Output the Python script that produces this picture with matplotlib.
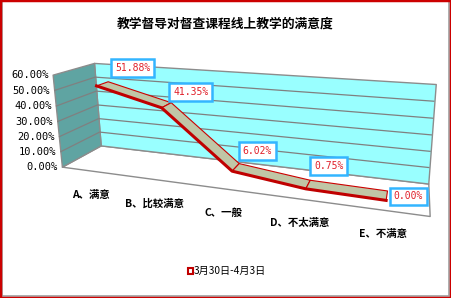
import numpy as np
import matplotlib
matplotlib.use("Agg")
import matplotlib.pyplot as plt
from matplotlib.patches import Rectangle
from matplotlib.transforms import offset_copy
from mpl_toolkits.mplot3d.art3d import Poly3DCollection, Line3DCollection

plt.rcParams['font.family'] = ['Noto Sans CJK SC', 'DejaVu Sans']

title = "教学督导对督查课程线上教学的满意度"
categories = ["A、满意", "B、比较满意", "C、一般", "D、不太满意", "E、不满意"]
values = [51.88, 41.35, 6.02, 0.75, 0.00]
series_name = "3月30日-4月3日"
yticks = [0, 10, 20, 30, 40, 50, 60]

W, H = 451, 298
fig = plt.figure(figsize=(W / 100, H / 100), dpi=100)
# principal point of the perspective view (off-centre like the original)
px, py = 268.5 / W, 1 - 82 / H
sq = H / W
ax = fig.add_axes([px - sq / 2, py - 0.5, sq, 1.0], projection='3d')
ax.set_axis_off()
ax.computed_zorder = False
ax.set_proj_type('persp', focal_length=0.30)
ax.view_init(elev=12.5, azim=-73.5)

n = len(categories)
xs = np.arange(n)
x0, x1 = -0.5, n - 0.5
zmax = yticks[-1]
ax.set_xlim(x0, x1 + 1.0)
ax.set_ylim(0, 1)
ax.set_zlim(0, 2.07 * zmax)
ax.set_box_aspect((5.55, 0.83, 2.57), zoom=1.70)

def add_poly(verts, fc, ec, lw, z):
    p = Poly3DCollection(verts, facecolor=fc, edgecolor=ec, linewidths=lw)
    p.set_clip_on(False)
    p.set_zorder(z)
    ax.add_collection3d(p)
    return p

# floor, back wall, side wall
add_poly([[(x0, 0, 0), (x1, 0, 0), (x1, 1, 0), (x0, 1, 0)]], 'white', '#8C8C8C', 1.0, 0.1)
add_poly([[(x0, 1, 0), (x1, 1, 0), (x1, 1, zmax), (x0, 1, zmax)]], '#99FFFF', '#8C8C8C', 1.0, 0.2)
add_poly([[(x0, 0, 0), (x0, 1, 0), (x0, 1, zmax), (x0, 0, zmax)]], '#5FA4A2', '#8C8C8C', 1.0, 0.3)

segs = []
for t in yticks[1:-1]:
    segs.append([(x0, 1, t), (x1, 1, t)])
    segs.append([(x0, 0, t), (x0, 1, t)])
grid = Line3DCollection(segs, colors='#808080', linewidths=0.9)
grid.set_clip_on(False)
grid.set_zorder(0.5)
ax.add_collection3d(grid)

# ribbon
yf, yb = 0.28, 0.58
verts = []
for i in range(n - 1):
    verts.append([(xs[i], yf, values[i]), (xs[i + 1], yf, values[i + 1]),
                  (xs[i + 1], yb, values[i + 1]), (xs[i], yb, values[i])])
add_poly(verts, '#C0C6A6', '#CC0000', 0.8, 1.0)
front, = ax.plot(xs, [yf] * n, values, color='#C00000', lw=2.2, zorder=2)
front.set_clip_on(False)

# data labels
lab_off = [(26, 13), (21, 11.5), (18, 14.4), (16.5, 16.5), (16, 3)]
for i, v in enumerate(values):
    tr = offset_copy(ax.transData, fig=fig, x=lab_off[i][0], y=lab_off[i][1], units='points')
    ax.text(xs[i], yf, v, f"{v:.2f}%", color='#E0202A', fontsize=7,
            family='DejaVu Sans Mono', ha='center', va='center', transform=tr, zorder=4,
            bbox=dict(boxstyle='square,pad=0.38', fc='white', ec='#33B5FF', lw=1.8))

tick_tr = offset_copy(ax.transData, fig=fig, x=-3, y=0, units='points')
for t in yticks:
    ax.text(x0, 0, t, f"{t:.2f}%", fontsize=7.5, ha='right', va='center',
            family='DejaVu Sans Mono', transform=tick_tr)
cat_tr = offset_copy(ax.transData, fig=fig, x=-1, y=-17.5, units='points')
for i, c in enumerate(categories):
    ax.text(xs[i], 0, 0, c, fontsize=7.5, ha='center', va='center', fontweight='bold',
            transform=cat_tr)

fig.text(0.5, 0.919, title, ha='center', va='center', fontsize=9.2, fontweight='bold')

fig.patches.append(Rectangle((0.417, 0.081), 0.011, 0.02, transform=fig.transFigure,
                             fc='white', ec='#C00000', lw=1.5))
fig.text(0.43, 0.091, series_name, fontsize=7.3, va='center', ha='left')

fig.patches.append(Rectangle((0.004, 0.006), 0.992, 0.99, transform=fig.transFigure,
                             fill=False, ec='#A0A0A0', lw=1.2))
fig.patches.append(Rectangle((0, 0), 1, 1, transform=fig.transFigure,
                             fill=False, ec='#CC0000', lw=2.5))

fig.savefig("out.png", dpi=100)
